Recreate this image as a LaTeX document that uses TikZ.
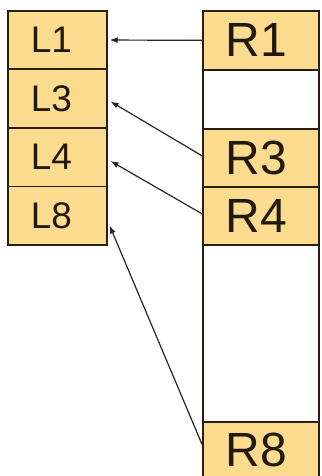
\documentclass[tikz,border=0pt]{standalone}
\usepackage{fontspec}
\setmainfont{Liberation Sans}
\usetikzlibrary{arrows.meta,calc}
\definecolor{cellfill}{RGB}{251,219,142}
\definecolor{cellline}{RGB}{40,30,15}
\definecolor{txtcol}{RGB}{35,25,10}
\begin{document}
\begin{tikzpicture}[x=1pt,y=-1pt,
  cell/.style={draw=cellline, line width=1.6pt, fill=cellfill, inner ysep=0pt, inner xsep=23pt,
    anchor=north west, align=left, text=txtcol},
  lcell/.style={cell, text width=53pt, minimum height=58.5pt, font=\fontsize{37}{37}\selectfont},
  rcell/.style={cell, text width=70pt, font=\fontsize{48}{48}\selectfont},
  ecell/.style={rcell, fill=white},
  arr/.style={draw=black!85, line width=1.2pt, -{Latex[length=8pt,width=6pt]}}]
\clip (0,0) rectangle (321,476);
\fill[white] (0,0) rectangle (321,476);
% left column
\node[lcell] (L1) at (7,10) {L1};
\node[lcell] (L3) at (7,68.5) {L3};
\node[lcell] (L4) at (7,127) {L4};
\node[lcell] (L8) at (7,185.5) {L8};
% right column
\node[rcell, minimum height=59pt] (R1) at (202,10) {R1};
\node[ecell, minimum height=59pt] (E1) at (202,69) {};
\node[rcell, minimum height=58pt] (R3) at (202,128) {R3};
\node[rcell, minimum height=58pt] (R4) at (202,186) {R4};
\node[ecell, minimum height=177pt] (E2) at (202,244) {};
\node[rcell, minimum height=57pt] (R8) at (202,421) {R8};
% connectors
\draw[arr] (R1.west) -- ($(L1.east)+(2,0)$);
\draw[arr] ($(R3.west)+(0,-2)$) -- ($(L3.east)+(3,3)$);
\draw[arr] ($(R4.west)+(0,-2)$) -- ($(L4.east)+(3,4)$);
\draw[arr] ($(R8.west)+(0,-6)$) -- ($(L8.east)+(2,10)$);
\end{tikzpicture}
\end{document}
